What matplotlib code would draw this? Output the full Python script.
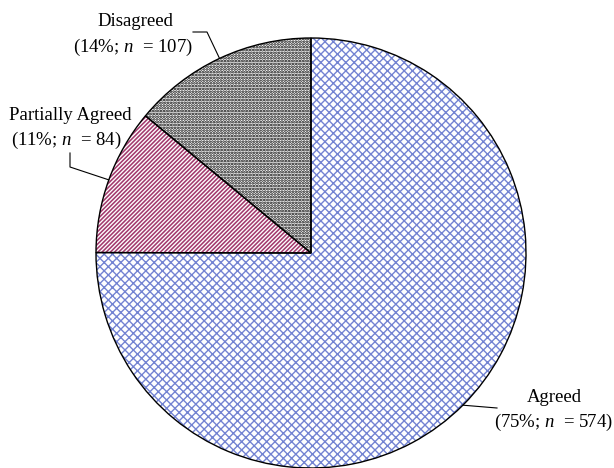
import numpy as np
import matplotlib
matplotlib.use("Agg")
import matplotlib.pyplot as plt

plt.rcParams['font.family'] = ['Liberation Serif', 'DejaVu Serif']
plt.rcParams['mathtext.fontset'] = 'custom'
plt.rcParams['mathtext.rm'] = 'Liberation Serif'
plt.rcParams['mathtext.it'] = 'Liberation Serif:italic'
plt.rcParams['hatch.linewidth'] = 1.1

categories = ["Agreed", "Partially Agreed", "Disagreed"]
counts = [574, 84, 107]
percents = [75, 11, 14]
hatches = ["xxxx", "////////", "......"]
hatch_colors = ["#7383d2", "#a33a6e", "#000000"]
hatch_lws = [1.0, 1.15, 1.3]

W, H, DPI = 614, 468, 100
fig = plt.figure(figsize=(W / DPI, H / DPI), dpi=DPI)
ax = fig.add_axes([0, 0, 1, 1])

cx, cy, R = 311, 253, 215  # pie centre/radius in pixels


def px(x, y):
    return ((x - cx) / R, (cy - y) / R)


# hatch layer
w1, _ = ax.pie(counts, startangle=90, counterclock=False, radius=1.0,
               colors=["white"] * 3,
               wedgeprops=dict(linewidth=0))
for w, h, c, hl in zip(w1, hatches, hatch_colors, hatch_lws):
    w.set_hatch(h)
    w.set_edgecolor(c)
    w.set_linewidth(0)
    w._hatch_linewidth = hl
# outline layer
w2, _ = ax.pie(counts, startangle=90, counterclock=False, radius=1.0,
               wedgeprops=dict(fill=False, edgecolor="black", linewidth=1.0))

ax.set_xlim(-cx / R, (W - cx) / R)
ax.set_ylim(-(H - cy) / R, cy / R)
ax.set_aspect("equal")
ax.axis("off")

# wedge midpoints on the rim
total = sum(counts)
mids = []
start = 90.0
for v in counts:
    span = 360.0 * v / total
    mids.append(np.deg2rad(start - span / 2))
    start -= span
rim = [(np.cos(a), np.sin(a)) for a in mids]

fs = 13.5
labels_pos = {
    "Agreed": ((554, 397), (553, 422)),
    "Partially Agreed": ((70, 115), (66, 140)),
    "Disagreed": ((135, 22), (133, 47)),
}
for cat, n, p in zip(categories, counts, percents):
    (x1, y1), (x2, y2) = labels_pos[cat]
    ax.text(*px(x1, y1), cat, ha="center", va="center", fontsize=fs)
    ax.text(*px(x2, y2), f"({p}%; $n$  = {n})", ha="center", va="center",
            fontsize=fs)

# leader lines
leaders = {
    "Agreed": [px(497, 408)],
    "Partially Agreed": [px(70, 153), px(70, 167)],
    "Disagreed": [px(193, 32), px(207, 32)],
}
for cat, r in zip(categories, rim):
    pts = leaders[cat] + [r] if cat != "Agreed" else [r] + leaders[cat]
    xs = [q[0] for q in pts]
    ys = [q[1] for q in pts]
    ax.plot(xs, ys, color="black", lw=0.8)

fig.savefig("out.png", dpi=DPI)
